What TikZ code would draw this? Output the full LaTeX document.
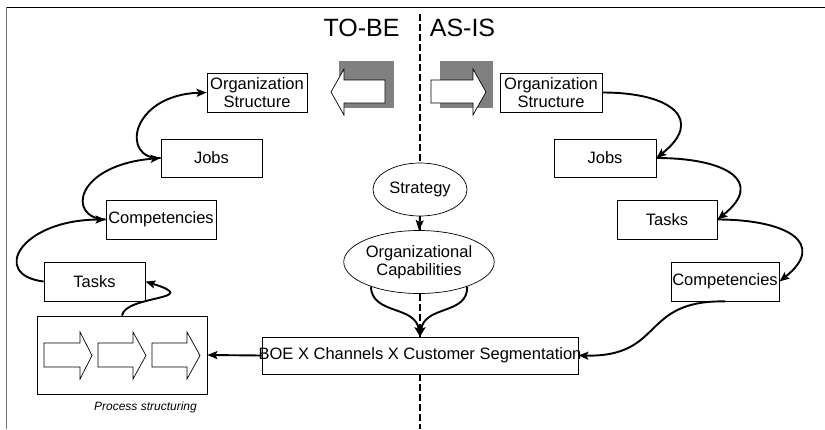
\documentclass[tikz,border=0pt]{standalone}
\usepackage{fontspec}
\setmainfont{Liberation Sans}
\usetikzlibrary{arrows.meta,shapes.geometric}
\begin{document}
\begin{tikzpicture}[x=1pt,y=-1pt,
  box/.style={draw=black, line width=0.8pt, fill=white, inner sep=0pt, font=\fontsize{16.5}{17.5}\selectfont, align=center},
  oval/.style={ellipse, draw=black, line width=0.7pt, fill=white, inner sep=0pt, font=\fontsize{16.5}{17.5}\selectfont, align=center},
  conn/.style={line width=1.9pt, -{Stealth[length=10pt,width=8pt,inset=2pt]}},
  bigarrow/.style={draw=black, line width=0.7pt, fill=white},
  shade/.style={fill=black!50, draw=none},
  procarrow/.style={draw=black, line width=0.7pt, fill=white},
  divider/.style={line width=1.8pt, dash pattern=on 7pt off 3pt},
  title/.style={font=\fontsize{25}{27}\selectfont, anchor=base}]
\useasboundingbox (0,0) rectangle (825,429);
% frame
\draw[line width=1pt] (6,7) -- (825,7);
\draw[black!55, line width=0.8pt] (6,7) -- (6,429);
% divider
\coordinate (dtop) at (420,14);
\coordinate (dbot) at (420,429);
\draw[divider] (dtop) -- (dbot);
% titles
\node[title] (tobe) at (361.5,36) {TO-BE};
\node[title] (asis) at (462.5,36) {AS-IS};
% shaded arrows
\fill[shade] (339,61) rectangle (394,108);
\draw[bigarrow] (385,80) -- (344,80) -- (344,69) -- (331,92) -- (344,115) -- (344,103) -- (385,103) -- cycle;
\fill[shade] (440,61) rectangle (493,108);
\draw[bigarrow] (431,80) -- (473,80) -- (473,69) -- (486,92) -- (473,115) -- (473,103) -- (431,103) -- cycle;
% TO-BE boxes
\node[box, minimum width=100pt, minimum height=39pt] (orgL) at (257,92.5) {Organization\\Structure};
\node[box, minimum width=101pt, minimum height=38pt] (jobsL) at (211.5,158) {Jobs};
\node[box, minimum width=110pt, minimum height=39pt] (compL) at (161,219.5) {Competencies};
\node[box, minimum width=101pt, minimum height=39pt] (tasksL) at (94.5,281.5) {Tasks};
\node[box, minimum width=170pt, minimum height=78pt] (proc) at (122,355) {};
\draw[procarrow] (44,343) -- (80,343) -- (80,332) -- (92,355.5) -- (80,379) -- (80,367) -- (44,367) -- cycle;
\draw[procarrow] (98,343) -- (133,343) -- (133,332) -- (146,355.5) -- (133,379) -- (133,367) -- (98,367) -- cycle;
\draw[procarrow] (152,343) -- (187,343) -- (187,332) -- (200,355.5) -- (187,379) -- (187,367) -- (152,367) -- cycle;
\node[font=\fontsize{12}{14}\selectfont\itshape] (ps) at (145.5,407) {Process structuring};
% AS-IS boxes
\node[box, minimum width=102pt, minimum height=39pt] (orgR) at (551,92.5) {Organization\\Structure};
\node[box, minimum width=102pt, minimum height=38pt] (jobsR) at (605,158) {Jobs};
\node[box, minimum width=100pt, minimum height=39pt] (tasksR) at (667,219.5) {Tasks};
\node[box, minimum width=108pt, minimum height=39pt] (compR) at (725,281.5) {Competencies};
% centre
\node[oval, minimum width=94pt, minimum height=53pt] (strat) at (420,189.5) {Strategy};
\node[oval, minimum width=138pt, minimum height=63pt] (orgcap) at (419,262) {Organizational\\Capabilities};
\node[box, minimum width=316pt, minimum height=37pt] (boe) at (420,355.5) {\makebox[300pt][c]{BOE X Channels X Customer Segmentation}};
% connectors TO-BE
\draw[conn] (tasksL.west) .. controls (-10,275) and (20,220) .. (compL.west);
\draw[conn] (compL.west) .. controls (66,218) and (75,165) .. (jobsL.west);
\draw[conn] (jobsL.west) .. controls (120,160) and (130,95) .. (orgL.west);
\draw[conn] (proc.north) .. controls (125,295) and (205,300) .. (tasksL.east);
\draw[conn] (boe.west) -- (proc.east);
% centre connectors
\draw[conn] (strat.south) -- (orgcap.north);
\draw[conn] (orgcap.207) .. controls (372,315) and (415,305) .. (boe.north);
\draw[conn] (orgcap.333) .. controls (468,315) and (425,305) .. (boe.north);
% connectors AS-IS
\draw[conn] (orgR.east) .. controls +(70,0) and +(48,-38) .. (jobsR.east);
\draw[conn] (jobsR.east) .. controls +(70,0) and +(48,-38) .. (tasksR.east);
\draw[conn] (tasksR.east) .. controls +(70,0) and +(48,-38) .. (compR.east);
\draw[conn] (compR.south) .. controls (640,300) and (665,357) .. (boe.east);
\end{tikzpicture}
\end{document}
